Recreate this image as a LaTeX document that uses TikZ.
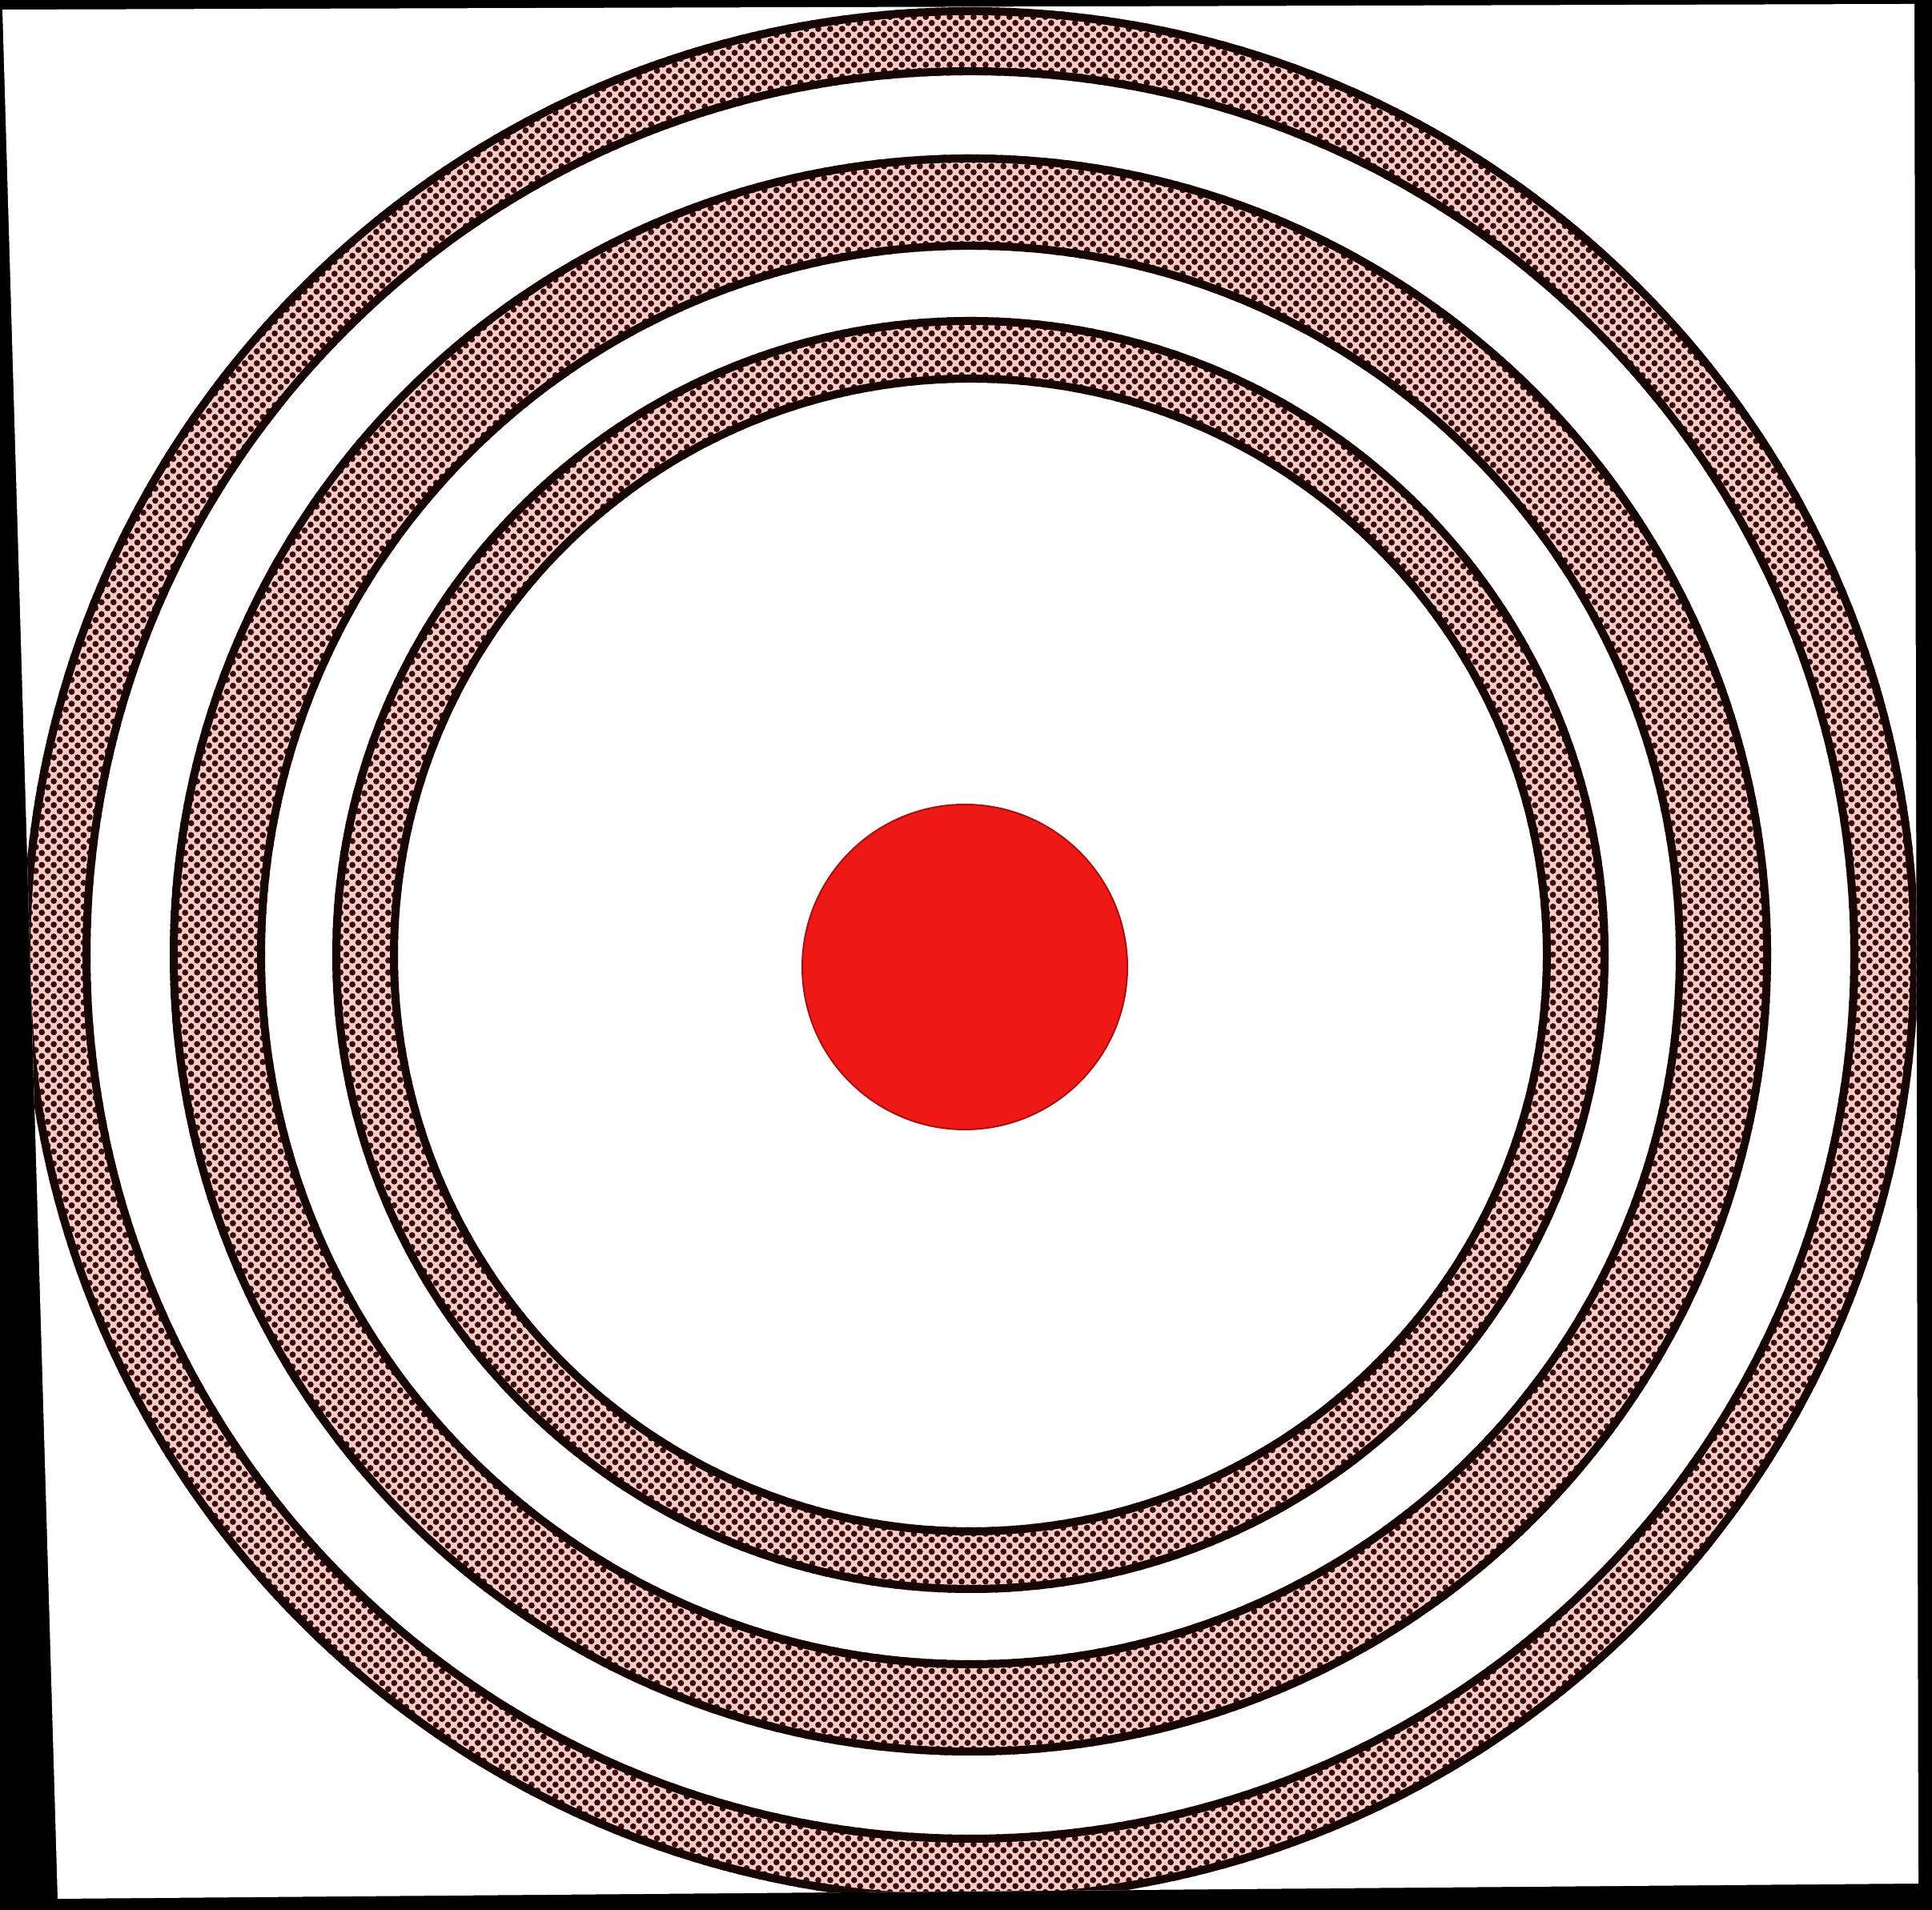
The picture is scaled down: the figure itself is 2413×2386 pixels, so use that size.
\documentclass[tikz,border=0pt]{standalone}
\usepackage{tikz}
\usetikzlibrary{patterns.meta}
\definecolor{clrPink}{RGB}{242,205,198}
\definecolor{clrDot}{RGB}{62,8,12}
\definecolor{clrRed}{RGB}{238,24,22}
\definecolor{clrEdge}{RGB}{22,6,6}

% halftone screen of the printed bands
\tikzdeclarepattern{
  name=halftone,
  type=uncolored,
  bounding box={(-1.5pt,-1.5pt) and (1.5pt,1.5pt)},
  tile size={(3pt,3pt)},
  tile transformation={rotate=45},
  code={\fill (0pt,0pt) circle [radius=1.1pt];}
}

\begin{document}
\begin{tikzpicture}[x=0.01cm,y=0.01cm,
  bandedge/.style={draw=clrEdge,line width=0.1cm}]
  \useasboundingbox (0,0) rectangle (2413,2386);

  % scan background and paper sheet
  \fill[black] (0,0) rectangle (2413,2386);
  \fill[white] (3,2374) -- (2391,2381) -- (2396,33) -- (72,14) -- cycle;

  \begin{scope}
    \clip (3,2374) -- (2391,2381) -- (2396,33) -- (72,14) -- cycle;
    % rings: inner radius / outer radius
    \foreach \ri/\ro in {715/797, 881/1000, 1099/1184}{
      \fill[clrPink,even odd rule] (1212,1193) circle [radius=\ro] circle [radius=\ri];
      \fill[pattern=halftone,pattern color=clrDot,even odd rule]
        (1212,1193) circle [radius=\ro] circle [radius=\ri];
      \draw[bandedge] (1212,1193) circle [radius={\ro-5}];
      \draw[bandedge] (1212,1193) circle [radius={\ri+5}];
    }
  \end{scope}

  % red centre
  \fill[clrRed,draw=clrRed!70!black,line width=0.02cm] (1205,1178) circle [radius=203];
\end{tikzpicture}
\end{document}
